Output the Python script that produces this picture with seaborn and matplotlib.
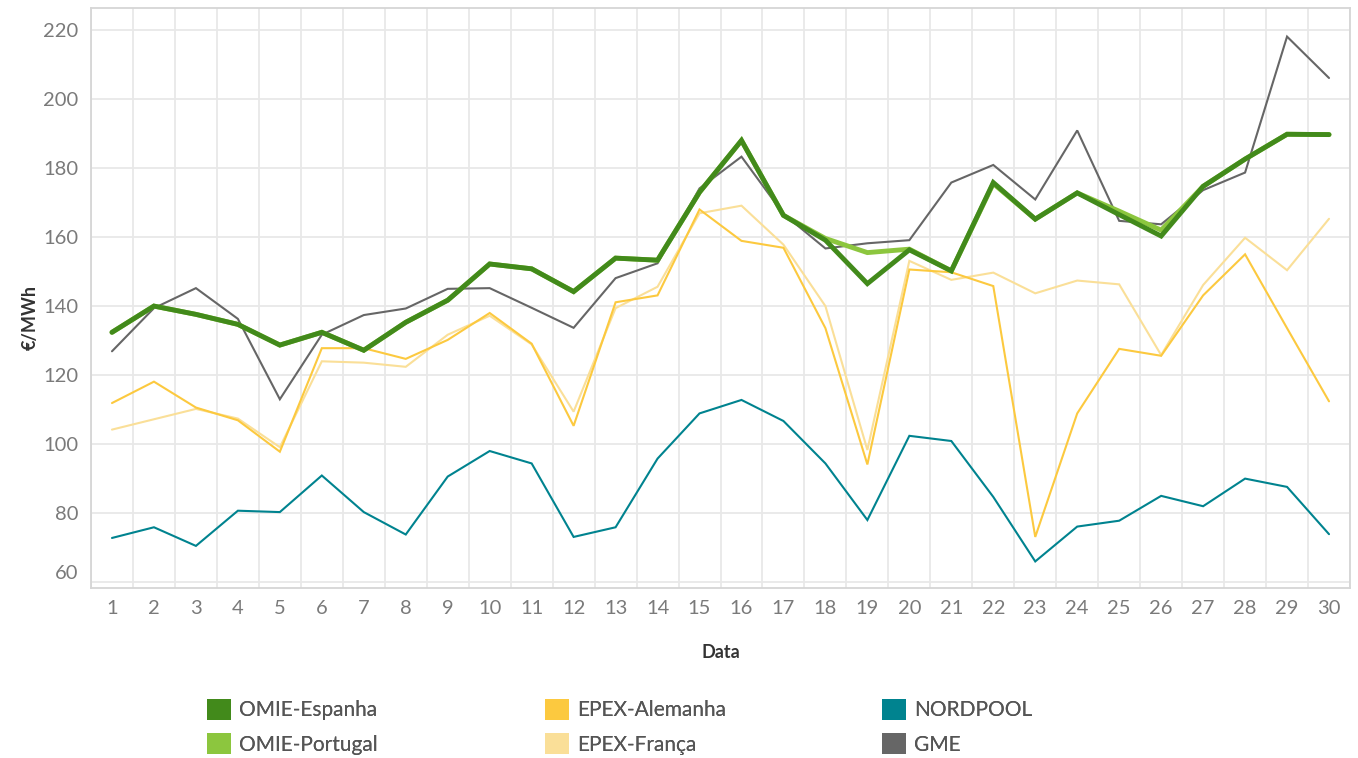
import matplotlib
matplotlib.use("Agg")
import matplotlib.pyplot as plt
from matplotlib.patches import Patch
import seaborn as sns
import pandas as pd

# Daily day-ahead prices (€/MWh) per market
days = list(range(1, 31))
omie_espanha = [132.4, 140.0, 137.6, 134.7, 128.7, 132.4, 127.2, 135.3, 141.7, 152.2,
                150.8, 144.2, 153.9, 153.3, 173.0, 188.0, 166.3, 159.1, 146.5, 156.3,
                150.2, 175.8, 165.2, 172.8, 166.5, 160.3, 174.7, 182.6, 189.8, 189.7]
omie_portugal = [132.4, 140.0, 137.6, 134.7, 128.7, 132.4, 127.2, 135.3, 141.7, 152.2,
                 150.8, 144.2, 153.9, 153.3, 173.0, 188.0, 166.3, 159.6, 155.5, 156.5,
                 150.2, 175.5, 165.2, 172.8, 167.5, 162.0, 174.7, 182.6, 189.8, 189.7]
epex_alemanha = [111.9, 118.1, 110.6, 106.9, 97.8, 127.8, 127.8, 124.7, 130.2, 138.0,
                 129.1, 105.3, 141.1, 143.1, 168.0, 158.9, 156.9, 133.6, 94.1, 150.6,
                 149.8, 145.8, 73.1, 108.9, 127.6, 125.6, 143.1, 155.0, 133.6, 112.4]
epex_franca = [104.2, 107.2, 110.2, 107.4, 99.1, 124.0, 123.6, 122.4, 131.7, 137.2,
               128.9, 109.4, 139.4, 145.6, 166.9, 169.1, 157.8, 140.0, 98.3, 153.1,
               147.6, 149.7, 143.7, 147.4, 146.3, 125.8, 146.1, 159.8, 150.4, 165.3]
nordpool = [72.8, 75.9, 70.5, 80.7, 80.3, 90.9, 80.3, 73.8, 90.6, 98.0,
            94.4, 73.1, 75.9, 95.8, 108.9, 112.8, 106.7, 94.4, 78.0, 102.4,
            100.9, 84.7, 66.0, 76.1, 77.8, 85.0, 82.0, 90.0, 87.6, 73.9]
gme = [126.9, 139.4, 145.2, 136.3, 113.0, 131.7, 137.4, 139.3, 145.0, 145.2,
       139.5, 133.7, 148.1, 152.4, 174.1, 183.3, 166.7, 156.7, 158.2, 159.1,
       175.8, 180.9, 170.9, 190.9, 164.7, 163.7, 173.6, 178.7, 218.1, 206.1]

series = {
    "OMIE-Espanha": omie_espanha,
    "OMIE-Portugal": omie_portugal,
    "EPEX-Alemanha": epex_alemanha,
    "EPEX-França": epex_franca,
    "NORDPOOL": nordpool,
    "GME": gme,
}
colors = {
    "OMIE-Espanha": "#428a1b",
    "OMIE-Portugal": "#8cc63e",
    "EPEX-Alemanha": "#fcc93f",
    "EPEX-França": "#fadf98",
    "NORDPOOL": "#00838f",
    "GME": "#666666",
}
widths = {
    "OMIE-Espanha": 3.5,
    "OMIE-Portugal": 3.5,
    "EPEX-Alemanha": 1.5,
    "EPEX-França": 1.5,
    "NORDPOOL": 1.5,
    "GME": 1.5,
}
draw_order = ["NORDPOOL", "EPEX-França", "EPEX-Alemanha", "GME", "OMIE-Portugal", "OMIE-Espanha"]

sns.set_theme(style="white")
plt.rcParams["font.family"] = ["Lato", "DejaVu Sans"]

fig = plt.figure(figsize=(13.58, 7.58), dpi=100)
ax = fig.add_axes([91 / 1358, 1 - 588 / 758, (1350 - 91) / 1358, (588 - 8.3) / 758])

for name in draw_order:
    df = pd.DataFrame({"Data": days, "valor": series[name]})
    sns.lineplot(data=df, x="Data", y="valor", ax=ax, color=colors[name],
                 linewidth=widths[name], legend=False, solid_joinstyle="miter")

ax.set_xlim(0.5, 30.5)
ax.set_ylim(58.3, 226.3)
ax.set_xticks(days)
ax.set_xticklabels([str(d) for d in days])
ax.set_xticks([d + 0.5 for d in range(0, 31)], minor=True)
ax.set_yticks(list(range(60, 221, 20)))

ax.grid(False)
ax.grid(True, axis="y", which="major", color="#e8e8e8", linewidth=1.3, zorder=0)
ax.grid(True, axis="x", which="minor", color="#e8e8e8", linewidth=1.3, zorder=0)
ax.set_axisbelow(True)

for side in ["top", "right", "bottom", "left"]:
    ax.spines[side].set_color("#d6d6d6")
    ax.spines[side].set_linewidth(1.3)

ax.tick_params(axis="x", which="major", length=0, pad=9, labelsize=14.5, labelcolor="#7a7a7a")
ax.tick_params(axis="x", which="minor", length=6, width=1.2, color="#ececec", direction="out")
ax.tick_params(axis="y", which="major", length=0, pad=9, labelsize=14.5, labelcolor="#7a7a7a")

ylabels = ax.get_yticklabels()
ylabels[0].set_va("bottom")

ax.set_xlabel("Data", fontsize=13, fontweight="bold", color="#333333")
ax.set_ylabel("€/MWh", fontsize=13, fontweight="bold", color="#333333")
ax.xaxis.label.set_va("center")
ax.yaxis.label.set_va("center")
ax.xaxis.set_label_coords(0.5, (588 - 652) / (588 - 8.3))
ax.yaxis.set_label_coords((30 - 91) / (1350 - 91), (588 - 318) / (588 - 8.3))

# Legend: three columns of two entries each
legend_cols = [["OMIE-Espanha", "OMIE-Portugal"],
               ["EPEX-Alemanha", "EPEX-França"],
               ["NORDPOOL", "GME"]]
col_x = [207, 545, 882]
for names, x0 in zip(legend_cols, col_x):
    handles = [Patch(facecolor=colors[n], edgecolor="none") for n in names]
    leg = fig.legend(handles, names, loc="upper left",
                     bbox_to_anchor=(x0 / 1358, 1 - 699 / 758),
                     frameon=False, borderpad=0, borderaxespad=0,
                     prop={"size": 15},
                     handlelength=1.15, handleheight=1.15, handletextpad=0.4,
                     labelspacing=0.62, labelcolor="#555555")
    fig.add_artist(leg)

fig.savefig("out.png", dpi=100)
